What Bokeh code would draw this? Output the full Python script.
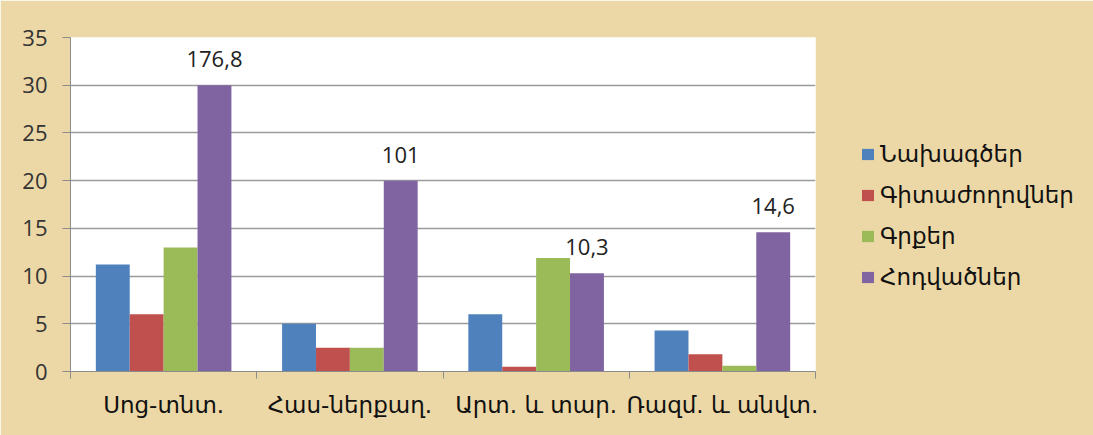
import numpy as np
from bokeh.plotting import figure
from bokeh.models import ColumnDataSource, FixedTicker, Range1d, Legend
from bokeh.transform import dodge
from bokeh.core.properties import value
from bokeh.embed import file_html
from bokeh.resources import INLINE

categories = ["Սոց-տնտ.", "Հաս-ներքաղ.", "Արտ. և տար.", "Ռազմ. և անվտ."]
series_names = ["Նախագծեր", "Գիտաժողովներ", "Գրքեր", "Հոդվածներ"]
projects = [11.2, 5.0, 6.0, 4.3]
conferences = [6.0, 2.5, 0.5, 1.8]
books = [13.0, 2.5, 11.9, 0.6]
articles = [30.0, 20.0, 10.3, 14.6]
article_labels = ["176,8", "101", "10,3", "14,6"]
y_ticks = [0, 5, 10, 15, 20, 25, 30, 35]

colors = ["#4F81BD", "#C0504D", "#9BBB59", "#8064A2"]
BG = "#ECD8A6"
NUM = "Open Sans"
ARM = "DejaVu Sans"

centers = np.arange(len(categories)) + 0.5
src = ColumnDataSource(dict(x=centers, projects=projects, conferences=conferences,
                            books=books, articles=articles, lab=article_labels))

p = figure(frame_width=745, frame_height=334, output_backend="svg", toolbar_location=None,
           x_range=Range1d(0, len(categories)), y_range=Range1d(0, 35),
           min_border_left=70, min_border_right=278, min_border_top=37, min_border_bottom=64)
p.background_fill_color = "white"
p.border_fill_color = BG
p.outline_line_color = None

bw = 0.182
offsets = [-1.5 * bw, -0.5 * bw, 0.5 * bw, 1.5 * bw]
cols = ["projects", "conferences", "books", "articles"]
items = []
for col, off, c, name in zip(cols, offsets, colors, series_names):
    r = p.vbar(x=dodge("x", off, range=p.x_range), top=col, width=bw, source=src,
               fill_color=c, line_color=None)
    items.append((name, [r]))

p.text(x=dodge("x", offsets[3], range=p.x_range), y="articles", text="lab", source=src,
       text_align="center", text_baseline="middle", y_offset=-26,
       text_font=value(NUM), text_font_size="22px", text_color="#222222")

# y axis
p.yaxis.ticker = FixedTicker(ticks=y_ticks)
p.yaxis.major_tick_out = 8
p.yaxis.major_tick_in = 0
p.yaxis.minor_tick_line_color = None
p.yaxis.axis_line_color = "#8C8C8C"
p.yaxis.major_tick_line_color = "#8C8C8C"
p.yaxis.major_label_text_font = NUM
p.yaxis.major_label_text_font_size = "22px"
p.yaxis.major_label_text_color = "#333333"
p.yaxis.major_label_standoff = 15

# x axis: labels at centers, ticks at category boundaries
p.xaxis.ticker = FixedTicker(ticks=list(centers),
                             minor_ticks=list(np.arange(len(categories) + 1)))
p.xaxis.major_label_overrides = {float(c): lab for c, lab in zip(centers, categories)}
p.xaxis.major_tick_line_color = None
p.xaxis.major_tick_out = 0
p.xaxis.major_tick_in = 0
p.xaxis.minor_tick_out = 7
p.xaxis.minor_tick_in = 0
p.xaxis.minor_tick_line_color = "#8C8C8C"
p.xaxis.axis_line_color = "#8C8C8C"
p.xaxis.major_label_text_font = ARM
p.xaxis.major_label_text_font_size = "23px"
p.xaxis.major_label_text_color = "#111111"
p.xaxis.major_label_standoff = 13

p.xgrid.grid_line_color = None
p.ygrid.ticker = FixedTicker(ticks=y_ticks)
p.ygrid.grid_line_color = "#9A9A9A"
p.ygrid.grid_line_width = 1.5

lg = Legend(items=items, location=(45, 81))
lg.background_fill_alpha = 0
lg.border_line_color = None
lg.padding = 0
lg.margin = 0
lg.glyph_width = 15
lg.glyph_height = 14
lg.label_height = 24
lg.spacing = 15
lg.label_standoff = 5
lg.label_text_font = ARM
lg.label_text_font_size = "23px"
lg.label_text_color = "#111111"
p.add_layout(lg, "right")

open("out.html", "w").write(file_html(p, INLINE))
